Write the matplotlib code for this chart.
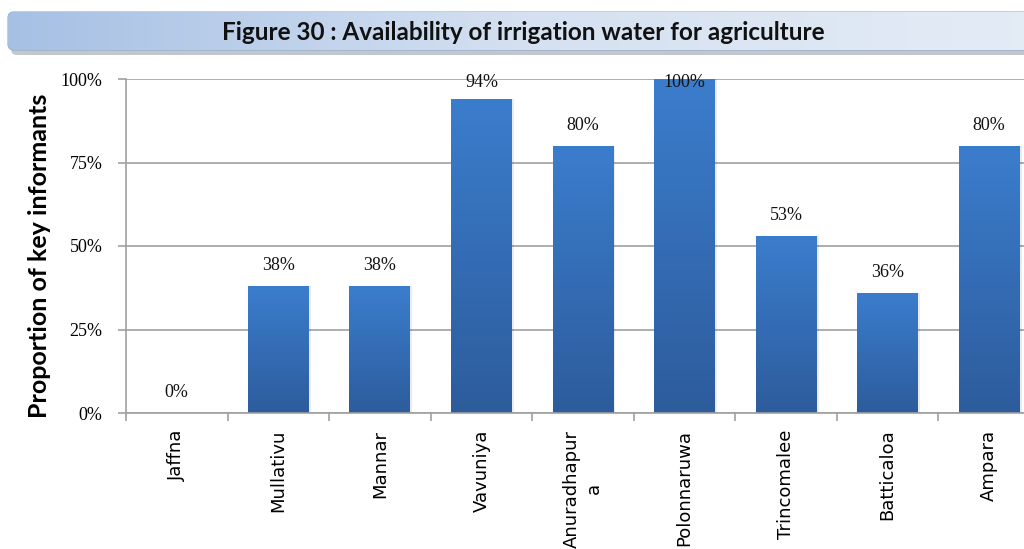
import numpy as np
import matplotlib
matplotlib.use('Agg')
import matplotlib.pyplot as plt
from matplotlib.patches import FancyBboxPatch
from matplotlib.colors import LinearSegmentedColormap

# data
districts = ['Jaffna', 'Mullativu', 'Mannar', 'Vavuniya', 'Anuradhapur\na',
             'Polonnaruwa', 'Trincomalee', 'Batticaloa', 'Ampara']
values = [0, 38, 38, 94, 80, 100, 53, 36, 80]
value_labels = ['0%', '38%', '38%', '94%', '80%', '100%', '53%', '36%', '80%']
y_ticks = [0, 25, 50, 75, 100]
y_tick_labels = ['0%', '25%', '50%', '75%', '100%']

bar_cmap = LinearSegmentedColormap.from_list('bar', ['#2D5C9C', '#3B7DCD'])
title_cmap = LinearSegmentedColormap.from_list('ttl', ['#A6C0E4', '#D5E1F1', '#E4ECF6'])

fig = plt.figure(figsize=(10.24, 5.49), dpi=100)

# title banner
tax = fig.add_axes([0, 0, 1, 1], zorder=0)
tax.set_xlim(0, 1024)
tax.set_ylim(549, 0)
tax.axis('off')
shadow = FancyBboxPatch((11, 17), 1040, 38, boxstyle='round,pad=0,rounding_size=6',
                        fc='#9AA3AE', ec='none', alpha=0.6, zorder=1)
tax.add_patch(shadow)
banner = FancyBboxPatch((8, 12), 1040, 38, boxstyle='round,pad=0,rounding_size=6',
                        fc='#C8D7EC', ec='#8EA9D0', lw=0.8, zorder=2)
tax.add_patch(banner)
grad = np.linspace(0, 1, 256).reshape(1, -1)
im = tax.imshow(grad, extent=[8, 1048, 50, 12], cmap=title_cmap, aspect='auto', zorder=3)
im.set_clip_path(banner)
tax.text(523, 32, 'Figure 30 : Availability of irrigation water for agriculture',
         ha='center', va='center', fontsize=17.5, fontweight='bold',
         family='Lato', color='#111111', zorder=4)

ax = fig.add_axes([126/1024, 1-413/549, (1040-126)/1024, (413-79)/549], zorder=1)
x = np.arange(len(districts))
bars = ax.bar(x, values, width=0.6, color='#3570B8', zorder=2)
vgrad = np.linspace(0, 1, 256).reshape(-1, 1)
for b in bars:
    if b.get_height() <= 0:
        continue
    # soft shadow on the right side
    ax.bar(b.get_x() + b.get_width()/2 + 0.02, b.get_height(), width=b.get_width(),
           color='#000000', alpha=0.08, zorder=1.5)
    g = ax.imshow(vgrad, extent=[b.get_x(), b.get_x() + b.get_width(), 0, b.get_height()],
                  cmap=bar_cmap, origin='lower', aspect='auto', zorder=2.5)
    g.set_clip_path(b)

# labels sit above the bars but are kept inside the plot area
for xi, v, lab in zip(x, values, value_labels):
    ax.text(xi, min(v + 3.5, 96.5), lab, ha='center', va='bottom', fontsize=13,
            family='Liberation Serif', color='#111111', zorder=4)

ax.set_xlim(-0.5, len(districts) - 0.5)
ax.set_ylim(0, 100)
ax.set_yticks(y_ticks)
ax.set_yticklabels(y_tick_labels, family='Liberation Serif', fontsize=13)
ax.yaxis.grid(True, color='#A0A0A0', lw=1.2, zorder=0)
ax.set_axisbelow(True)

ax.set_xticks(np.arange(len(districts) + 1) - 0.5)
ax.set_xticklabels([])
ax.set_xticks(x, minor=True)
ax.set_xticklabels(districts, minor=True, rotation=90, fontsize=13,
                   family='DejaVu Sans', va='top', ha='center', linespacing=1.3)
ax.tick_params(axis='x', which='minor', length=0, pad=12)
ax.tick_params(axis='x', which='major', length=6, color='#A0A0A0', width=1.2)
ax.tick_params(axis='y', length=6, color='#A0A0A0', width=1.2, pad=11)

for s in ['top', 'right']:
    ax.spines[s].set_visible(False)
for s in ['left', 'bottom']:
    ax.spines[s].set_color('#A0A0A0')
    ax.spines[s].set_linewidth(1.2)

ax.set_ylabel('Proportion of key informants', fontsize=18, fontweight='bold',
              family='Lato')
ax.yaxis.set_label_coords(-0.082, 0.47)

fig.savefig('out.png', dpi=100)
